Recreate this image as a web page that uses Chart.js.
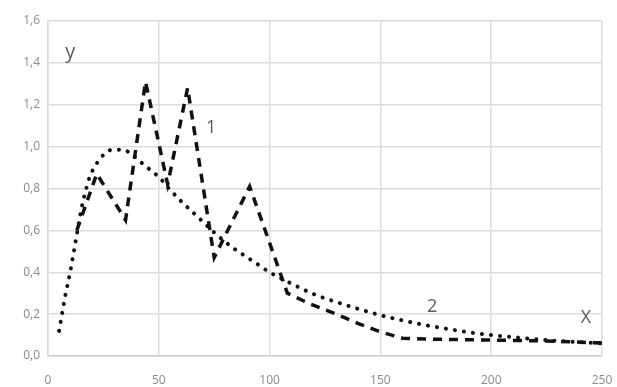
<!DOCTYPE html>
<html lang="en">
<head>
    <meta charset="UTF-8">
    <title>Curves 1 and 2</title>
    <script src="https://cdn.jsdelivr.net/npm/chart.js@4.4.1/dist/chart.umd.min.js"></script>
    <style>
        html, body { margin: 0; padding: 0; background: #fff; }
        .chart-container { position: relative; width: 617px; height: 387px; }
    </style>
</head>
<body>
    <div class="chart-container">
        <canvas id="curveChart"></canvas>
    </div>

    <script>
        // Curve 1 (dashed)
        const curve1X = [13, 22, 35, 44, 54, 63, 75, 91, 108, 118, 130, 140, 150, 160, 175, 200, 225, 250];
        const curve1Y = [0.60, 0.87, 0.65, 1.31, 0.82, 1.28, 0.47, 0.81, 0.30, 0.25, 0.20, 0.155, 0.115, 0.085, 0.080, 0.076, 0.072, 0.062];

        // Curve 2 (dotted)
        const curve2X = [5, 6, 7, 8, 9, 10, 11, 12, 13, 14, 15, 17, 19, 22, 25, 29, 34, 38, 42, 46, 50, 55, 60, 65, 70, 75, 80, 85, 90, 95, 100,
                         110, 120, 130, 140, 150, 160, 170, 180, 190, 200, 210, 220, 230, 240, 250];
        const curve2Y = [0.12, 0.18, 0.24, 0.30, 0.35, 0.40, 0.46, 0.52, 0.58, 0.64, 0.70, 0.79, 0.86, 0.92, 0.96, 0.985, 0.985, 0.96, 0.925, 0.89, 0.855, 0.795, 0.74, 0.69, 0.64, 0.59, 0.545, 0.505, 0.47, 0.435, 0.40,
                         0.345, 0.295, 0.258, 0.225, 0.195, 0.17, 0.148, 0.13, 0.113, 0.10, 0.09, 0.08, 0.072, 0.066, 0.06];

        const xTicks = [0, 50, 100, 150, 200, 250];
        const yTicks = [0, 0.2, 0.4, 0.6, 0.8, 1.0, 1.2, 1.4, 1.6];

        // text labels inside the plot, placed in data units
        const labelTexts = ['y', '1', '2', 'X'];
        const labelX = [10, 73.6, 173.3, 242.8];
        const labelY = [1.45, 1.09, 0.234, 0.18];
        const labelSize = [20, 18, 18, 18];

        const toPoints = (xs, ys) => xs.map((x, i) => ({ x: x, y: ys[i] }));

        const labelPlugin = {
            id: 'curveLabels',
            afterDatasetsDraw(chart) {
                const { ctx, scales } = chart;
                ctx.save();
                ctx.fillStyle = '#595959';
                ctx.textAlign = 'center';
                ctx.textBaseline = 'middle';
                labelTexts.forEach((t, i) => {
                    ctx.font = labelSize[i] + 'px "Open Sans", sans-serif';
                    ctx.fillText(t, scales.x.getPixelForValue(labelX[i]), scales.y.getPixelForValue(labelY[i]));
                });
                ctx.restore();
            }
        };

        const tickFont = { family: '"Open Sans", sans-serif', size: 12 };

        new Chart(document.getElementById('curveChart'), {
            type: 'line',
            data: {
                datasets: [
                    {
                        label: '1',
                        data: toPoints(curve1X, curve1Y),
                        borderColor: '#111',
                        borderWidth: 3.5,
                        borderDash: [9, 7],
                        borderCapStyle: 'butt',
                        pointRadius: 0,
                        tension: 0,
                        fill: false
                    },
                    {
                        label: '2',
                        data: toPoints(curve2X, curve2Y),
                        borderColor: '#111',
                        borderWidth: 4,
                        borderDash: [0.1, 9],
                        borderCapStyle: 'round',
                        pointRadius: 0,
                        cubicInterpolationMode: 'monotone',
                        fill: false
                    }
                ]
            },
            options: {
                responsive: true,
                maintainAspectRatio: false,
                animation: false,
                layout: { padding: { top: 21, right: 15, left: 0, bottom: 0 } },
                plugins: {
                    legend: { display: false },
                    tooltip: { enabled: false }
                },
                scales: {
                    x: {
                        type: 'linear',
                        min: 0,
                        max: 250,
                        afterBuildTicks: s => { s.ticks = xTicks.map(v => ({ value: v })); },
                        afterFit: s => { s.height = 31; s.paddingLeft = 0; s.paddingRight = 0; },
                        grid: { color: '#dcdcdc', lineWidth: 1.5, drawTicks: false },
                        border: { color: '#d0d0d0', width: 1.5 },
                        ticks: { color: '#8a8a8a', font: tickFont, padding: 17, maxRotation: 0 }
                    },
                    y: {
                        min: 0,
                        max: 1.6,
                        afterBuildTicks: s => { s.ticks = yTicks.map(v => ({ value: v })); },
                        afterFit: s => { s.width = 48; s.paddingTop = 0; s.paddingBottom = 0; },
                        grid: { color: '#dcdcdc', lineWidth: 1.5, drawTicks: false },
                        border: { color: '#dcdcdc', width: 1.5 },
                        ticks: {
                            color: '#8a8a8a', font: tickFont, padding: 8,
                            callback: v => v.toFixed(1).replace('.', ',')
                        }
                    }
                }
            },
            plugins: [labelPlugin]
        });
    </script>
</body>
</html>
